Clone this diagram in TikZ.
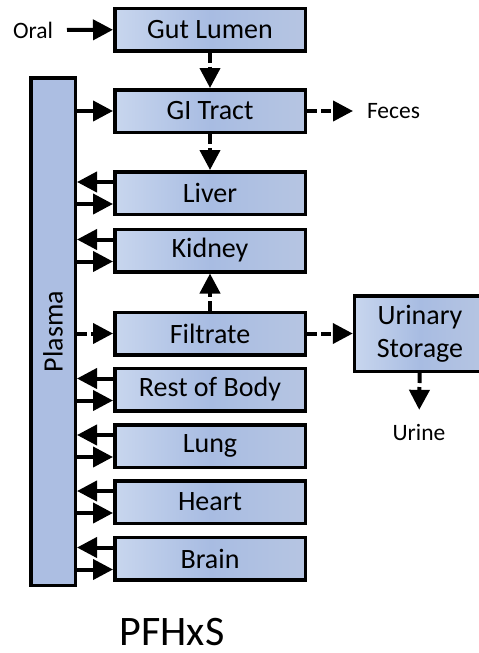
\documentclass[tikz,border=0pt]{standalone}
\usepackage{fontspec}
\setmainfont{Carlito}
\usetikzlibrary{arrows.meta}
\definecolor{boxleft}{RGB}{200,214,238}
\definecolor{boxmid}{RGB}{168,188,226}
\definecolor{boxright}{RGB}{182,197,226}
\definecolor{plasmafill}{RGB}{172,190,226}
\begin{document}
\begin{tikzpicture}[x=1pt,y=-1pt,>={Triangle[length=20pt,width=20pt]},
		organ/.style={draw, line width=3.5pt, minimum width=190.5pt, minimum height=42.5pt, left color=boxleft, right color=boxright, middle color=boxmid, font=\fontsize{28}{33}\selectfont, inner sep=0pt},
		flow/.style={->, line width=4pt},
		dflow/.style={->, line width=4pt, dash pattern=on 10pt off 4pt},
		outside/.style={inner sep=0pt, outer sep=14pt, font=\fontsize{23.5}{28}\selectfont}]
		\useasboundingbox (0,0) rectangle (479,653);
		
		% Compartments
		\node[organ] (gut) at (210,29.5) {Gut Lumen};
		\node[organ] (gi) at (210,111) {GI Tract};
		\node[organ] (liver) at (210,193) {Liver};
		\node[organ] (kidney) at (210,250.5) {Kidney};
		\node[organ] (filtrate) at (210,333.5) {Filtrate};
		\node[organ] (rest) at (210,389.5) {Rest of Body};
		\node[organ] (lung) at (210,446) {Lung};
		\node[organ] (heart) at (210,502) {Heart};
		\node[organ] (brain) at (210,558.5) {Brain};
		\node[organ, minimum width=131pt, minimum height=75.5pt, align=center] (storage) at (420,333.5) {Urinary\\Storage};
		\node[draw, line width=3.5pt, fill=plasmafill, minimum width=44.5pt, minimum height=507.5pt, inner sep=0pt] (plasma) at (53,331.5) {};
		\node[rotate=90, font=\fontsize{28}{33}\selectfont] at (plasma.center) {Plasma};
		
		% Inputs and outputs
		\node[outside, anchor=east] (oral) at (67,30) {Oral};
		\node[outside, anchor=west] (feces) at (353,111) {Feces};
		\node[outside] (urine) at (419,432) {Urine};
		\node[font=\fontsize{42}{48}\selectfont, anchor=base, inner sep=0pt, text depth=0pt] (name) at (172,645) {PFHxS};
		
		\draw[flow] (oral) -- (gut);
		\draw[dflow] (gut) -- (gi);
		\draw[dflow] (gi) -- (feces);
		\draw[dflow] (gi) -- (liver);
		\draw[flow] (gi.west -| plasma.east) -- (gi.west);
		\draw[dflow] (filtrate.west -| plasma.east) -- (filtrate.west);
		\draw[dflow] (filtrate) -- (kidney);
		\draw[dflow] (filtrate) -- (storage);
		\draw[dflow] (storage) -- (urine);
		
		% Exchange with plasma
		\foreach \n in {liver,kidney,rest,lung,heart,brain}{
			\draw[flow] ([yshift=11pt]\n.west) -- ([yshift=11pt]\n.west -| plasma.east);
			\draw[flow] ([yshift=-11pt]\n.west -| plasma.east) -- ([yshift=-11pt]\n.west);
		}
	\end{tikzpicture}
\end{document}
